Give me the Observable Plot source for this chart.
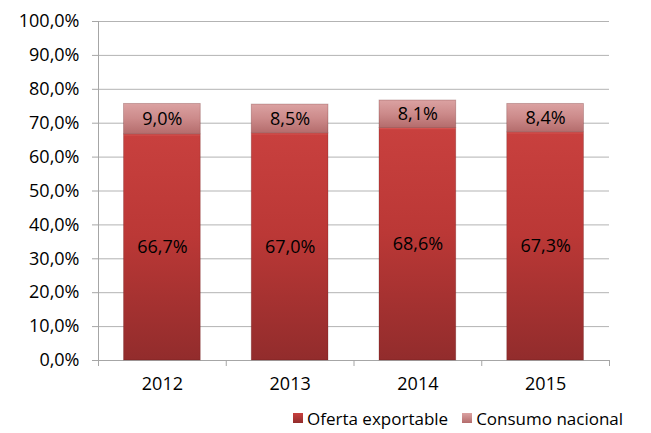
<!DOCTYPE html>
<html>
<head>
<meta charset="utf-8">
<script src="https://cdn.jsdelivr.net/npm/d3@7"></script>
<script src="https://cdn.jsdelivr.net/npm/@observablehq/plot@0.6"></script>
<style>
  html, body { margin: 0; padding: 0; background: #fff; }
  body { width: 651px; height: 433px; overflow: hidden; font-family: "Open Sans", sans-serif; }
  #legend { height: 33px; display: flex; align-items: center; white-space: nowrap; padding-left: 293px; padding-top: 3px; box-sizing: border-box; font-size: 17px; color: #000; }
  #legend .item { display: flex; align-items: center; margin-right: 14px; }
  #legend .sw { width: 10px; height: 10px; margin-right: 4px; display: inline-block; }
</style>
</head>
<body>
<svg width="0" height="0" style="position:absolute">
  <defs>
    <linearGradient id="gOferta" x1="0" y1="0" x2="0" y2="1">
      <stop offset="0" stop-color="#e0625f"/>
      <stop offset="0.01" stop-color="#c8403e"/>
      <stop offset="0.45" stop-color="#bb3836"/>
      <stop offset="1" stop-color="#922c2c"/>
    </linearGradient>
    <linearGradient id="gConsumo" x1="0" y1="0" x2="0" y2="1">
      <stop offset="0" stop-color="#dba2a2"/>
      <stop offset="0.5" stop-color="#cc8a8a"/>
      <stop offset="1" stop-color="#b46c6c"/>
    </linearGradient>
  </defs>
</svg>
<div id="chart"></div>
<div id="legend"></div>
<script>
const years = ["2012", "2013", "2014", "2015"];
const oferta = [66.7, 67.0, 68.6, 67.3];
const consumo = [9.0, 8.5, 8.1, 8.4];
const series = ["Oferta exportable", "Consumo nacional"];
const yTicks = [0, 10, 20, 30, 40, 50, 60, 70, 80, 90, 100];

const fmt = v => v.toFixed(1).replace(".", ",") + "%";

// build stacked table
const rows = [];
years.forEach((year, i) => {
  const vals = [oferta[i], consumo[i]];
  let acc = 0;
  vals.forEach((v, k) => {
    rows.push({i, year, serie: series[k], value: v, y1: acc, y2: acc + v});
    acc += v;
  });
});

const xBounds = years.map((_, i) => i).concat([years.length]);
const xCenters = years.map((_, i) => i + 0.5);
const fills = ["url(#gOferta)", "url(#gConsumo)"];
const fillOf = d => fills[series.indexOf(d.serie)];

const plot = Plot.plot({
  width: 651,
  height: 400,
  marginLeft: 98,
  marginRight: 42,
  marginTop: 21,
  marginBottom: 40,
  style: {fontFamily: "Open Sans, sans-serif", fontSize: "18px", color: "#000", background: "#fff"},
  x: {domain: [0, years.length], axis: null, label: null},
  y: {domain: [0, 100], axis: null, label: null},
  marks: [
    Plot.gridY(yTicks, {stroke: "#b3b3b3", strokeOpacity: 1}),
    Plot.axisY(yTicks, {tickFormat: fmt, tickSize: 6, tickPadding: 13, stroke: "#a6a6a6", fill: "#000", fontSize: 18, label: null}),
    Plot.ruleX([0], {stroke: "#a6a6a6"}),
    Plot.ruleY([0], {stroke: "#a6a6a6"}),
    Plot.axisX(xBounds, {tickFormat: () => "", tickSize: 6, stroke: "#a6a6a6", label: null}),
    Plot.axisX(xCenters, {tickFormat: d => years[Math.floor(d)], tickSize: 0, tickPadding: 17, fill: "#000", fontSize: 18, label: null}),
    Plot.rect(rows, {
      x1: "i", x2: d => d.i + 1, y1: "y1", y2: "y2",
      fill: fillOf, insetLeft: 25.5, insetRight: 25.5,
      stroke: "rgba(90,20,20,0.3)", strokeWidth: 0.8
    }),
    Plot.text(rows, {
      x: d => d.i + 0.5, y: d => (d.y1 + d.y2) / 2,
      text: d => fmt(d.value), fill: "#000", fontSize: 18
    })
  ]
});
document.getElementById("chart").appendChild(plot);

const legend = document.getElementById("legend");
series.forEach((s, k) => {
  const item = document.createElement("span");
  item.className = "item";
  const sw = document.createElement("span");
  sw.className = "sw";
  sw.style.background = k === 0 ? "linear-gradient(#c8403e, #922c2c)" : "linear-gradient(#dba2a2, #b46c6c)";
  item.appendChild(sw);
  item.appendChild(document.createTextNode(s));
  legend.appendChild(item);
});
</script>
</body>
</html>
